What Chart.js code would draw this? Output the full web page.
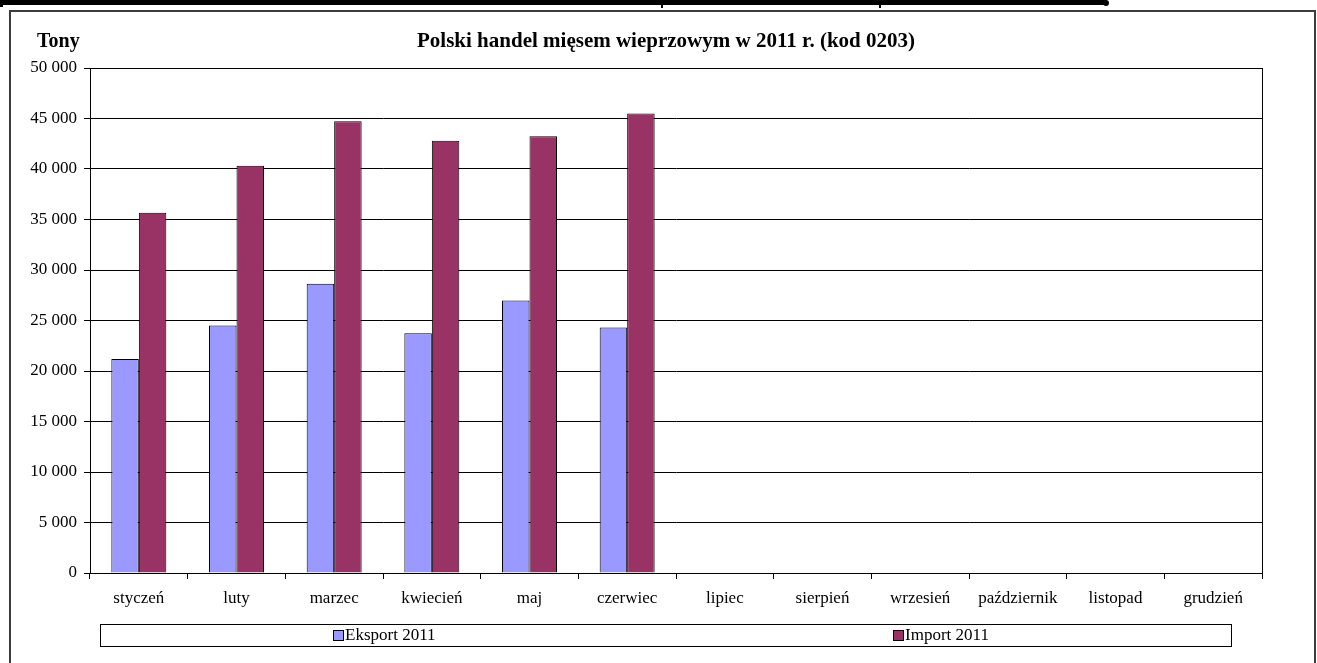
<!DOCTYPE html>
<html>
<head>
<meta charset="utf-8">
<script src="https://cdn.jsdelivr.net/npm/chart.js@4"></script>
<style>
  html, body { margin: 0; padding: 0; background: #ffffff; }
  #wrap { position: relative; width: 1317px; height: 663px; }
  canvas { display: block; }
</style>
</head>
<body>
<div id="wrap"><canvas id="c" width="1317" height="663"></canvas></div>
<script>
const months = ['styczeń', 'luty', 'marzec', 'kwiecień', 'maj', 'czerwiec', 'lipiec', 'sierpień', 'wrzesień', 'październik', 'listopad', 'grudzień'];
const eksport2011 = [21200, 24500, 28650, 23750, 26980, 24300, null, null, null, null, null, null];
const import2011 = [35670, 40320, 44730, 42790, 43250, 45490, null, null, null, null, null, null];
const yTicks = [0, 5000, 10000, 15000, 20000, 25000, 30000, 35000, 40000, 45000, 50000];
const seriesNames = ['Eksport 2011', 'Import 2011'];
const titleText = 'Polski handel mięsem wieprzowym w 2011 r. (kod 0203)';
const unitText = 'Tony';

const SERIF = '"Liberation Serif", "Times New Roman", serif';

function fmt(v) {
  return String(v).replace(/\B(?=(\d{3})+(?!\d))/g, ' ');
}

const decor = {
  id: 'decor',
  beforeDraw(chart) {
    const ctx = chart.ctx;
    ctx.save();
    ctx.fillStyle = '#ffffff';
    ctx.fillRect(0, 0, chart.width, chart.height);
    // top black strip
    ctx.fillStyle = '#000000';
    ctx.fillRect(0, 0, 1107, 5);
    ctx.fillRect(0, 0, 3, 7);
    ctx.fillRect(661, 0, 2, 8);
    ctx.fillRect(879, 0, 2, 8);
    ctx.beginPath();
    ctx.arc(1106, 3, 3, 0, Math.PI * 2);
    ctx.fill();
    // outer frame
    ctx.strokeStyle = '#3c3c3c';
    ctx.lineWidth = 2;
    ctx.strokeRect(10, 11, 1305, 700);
    ctx.restore();
  },
  afterDatasetsDraw(chart) {
    const ctx = chart.ctx;
    const a = chart.chartArea;
    ctx.save();
    ctx.strokeStyle = '#000000';
    ctx.lineWidth = 1;
    ctx.strokeRect(Math.round(a.left) + 0.5, Math.round(a.top) + 0.5, Math.round(a.right - a.left), Math.round(a.bottom - a.top));
    ctx.restore();
  },
  afterDraw(chart) {
    const ctx = chart.ctx;
    ctx.save();
    ctx.fillStyle = '#000000';
    ctx.textBaseline = 'middle';
    ctx.font = 'bold 20px ' + SERIF;
    ctx.textAlign = 'left';
    ctx.fillText(unitText, 37, 42);
    ctx.font = 'bold 21px ' + SERIF;
    ctx.textAlign = 'center';
    ctx.fillText(titleText, 666, 42);

    // legend box
    ctx.strokeStyle = '#000000';
    ctx.lineWidth = 1;
    ctx.strokeRect(100.5, 624.5, 1131, 22);
    const items = [{x: 333}, {x: 893}];
    ctx.font = '17px ' + SERIF;
    ctx.textAlign = 'left';
    chart.data.datasets.forEach((ds, i) => {
      const x = items[i].x;
      ctx.fillStyle = ds.backgroundColor;
      ctx.fillRect(x, 630, 10, 10);
      ctx.strokeStyle = '#000000';
      ctx.strokeRect(x + 0.5, 630.5, 10, 10);
      ctx.fillStyle = '#000000';
      ctx.fillText(ds.label, x + 12, 636);
    });
    ctx.restore();
  }
};

new Chart(document.getElementById('c'), {
  type: 'bar',
  data: {
    labels: months,
    datasets: [
      { label: seriesNames[0], data: eksport2011, backgroundColor: '#9999ff', borderColor: '#000000', borderWidth: 1, categoryPercentage: 0.563, barPercentage: 1.0 },
      { label: seriesNames[1], data: import2011, backgroundColor: '#993366', borderColor: '#000000', borderWidth: 1, categoryPercentage: 0.563, barPercentage: 1.0 }
    ]
  },
  options: {
    responsive: false,
    animation: false,
    devicePixelRatio: 1,
    layout: { padding: { left: 10, top: 68, right: 55, bottom: 50 } },
    plugins: {
      legend: { display: false },
      title: { display: false },
      tooltip: { enabled: false }
    },
    scales: {
      x: {
        afterFit(scale) { scale.height = 40; },
        grid: { display: true, offset: true, drawOnChartArea: false, drawTicks: true, tickLength: 6, color: '#000000' },
        border: { display: true, color: '#000000', width: 1 },
        ticks: { color: '#000000', font: { family: SERIF, size: 17 }, padding: 9, maxRotation: 0, autoSkip: false }
      },
      y: {
        min: 0,
        max: 50000,
        afterFit(scale) { scale.width = 80; },
        afterBuildTicks(scale) { scale.ticks = yTicks.map(v => ({ value: v })); },
        grid: { color: '#000000', lineWidth: 1, drawTicks: true, tickLength: 6 },
        border: { display: true, color: '#000000', width: 1 },
        ticks: { color: '#000000', font: { family: SERIF, size: 17 }, padding: 7, callback: (v) => fmt(v) }
      }
    }
  },
  plugins: [decor]
});
</script>
</body>
</html>
